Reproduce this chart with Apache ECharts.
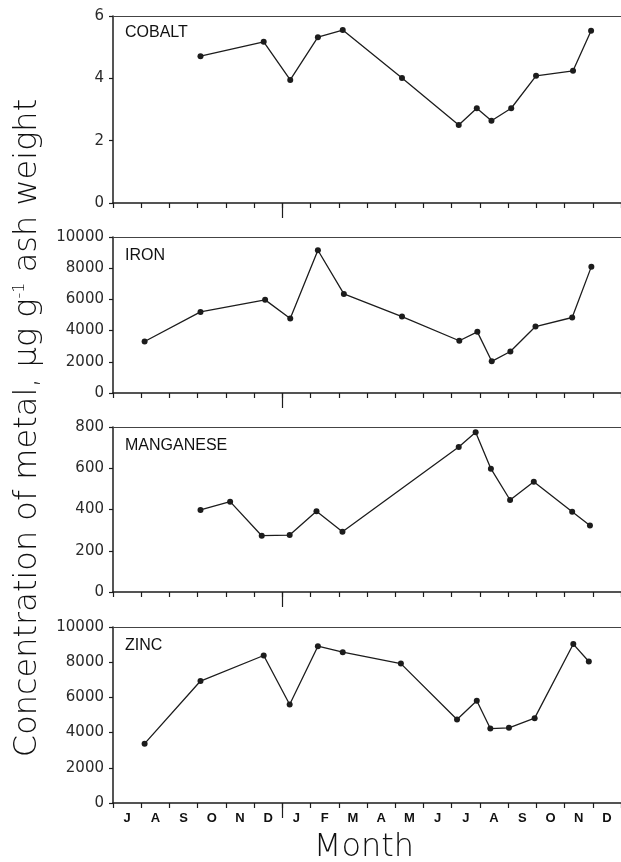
<!DOCTYPE html>
<html>
<head>
<meta charset="utf-8">
<script src="https://cdn.jsdelivr.net/npm/echarts@6/dist/echarts.min.js"></script>
<style>
  html, body { margin: 0; padding: 0; background: #ffffff; }
  #chart { width: 621px; height: 862px; }
</style>
</head>
<body>
<div id="chart"></div>
<script>
// Month categories (July .. December of the following year)
const months = ['J','A','S','O','N','D','J','F','M','A','M','J','J','A','S','O','N','D'];

// Sampling times in months from the start of the first July
const cobaltTime  = [3.10, 5.34, 6.28, 7.26, 8.14, 10.24, 12.25, 12.89, 13.41, 14.11, 14.99, 16.30, 16.94];
const cobaltValue = [4.71, 5.17, 3.95, 5.32, 5.55, 4.01, 2.50, 3.04, 2.64, 3.04, 4.08, 4.24, 5.53];

const ironTime  = [1.12, 3.10, 5.39, 6.28, 7.26, 8.18, 10.24, 12.27, 12.91, 13.42, 14.08, 14.97, 16.27, 16.95];
const ironValue = [3300, 5200, 5970, 4780, 9150, 6350, 4900, 3350, 3920, 2030, 2660, 4260, 4840, 8100];

const manganeseTime  = [3.10, 4.15, 5.27, 6.26, 7.21, 8.13, 12.25, 12.85, 13.39, 14.07, 14.91, 16.27, 16.90];
const manganeseValue = [398, 438, 273, 276, 392, 292, 703, 774, 598, 446, 535, 389, 322];

const zincTime  = [1.12, 3.10, 5.34, 6.26, 7.26, 8.14, 10.20, 12.19, 12.89, 13.37, 14.03, 14.94, 16.31, 16.86];
const zincValue = [3370, 6930, 8380, 5600, 8910, 8570, 7920, 4740, 5810, 4230, 4270, 4820, 9030, 8040];

// Panel names and y-axis scales
const panelNames = ['COBALT', 'IRON', 'MANGANESE', 'ZINC'];
const yMax      = [6, 10000, 800, 10000];
const yInterval = [2, 2000, 200, 2000];
const yearBoundary = [6];

const seriesTimes  = [cobaltTime, ironTime, manganeseTime, zincTime];
const seriesValues = [cobaltValue, ironValue, manganeseValue, zincValue];

// Layout
const gridLeft = 113;
const gridWidth = 513;
const gridTops = [16, 237, 427, 627];
const gridHeights = [187, 156, 165, 176];

const INK = '#1c1c1c';
const TITLE_FONT = 'DejaVu Sans ExtraLight, DejaVu Sans, sans-serif';
const chart = echarts.init(document.getElementById('chart'), null, { renderer: 'canvas' });

const grids = [], xAxes = [], yAxes = [], series = [], graphics = [];

for (let i = 0; i < 4; i++) {
  grids.push({
    left: gridLeft, top: gridTops[i], width: gridWidth, height: gridHeights[i],
    containLabel: false, show: false
  });
  const mainX = xAxes.length;
  xAxes.push({
    type: 'value', gridIndex: i, min: 0, max: 18, interval: 1, position: 'bottom',
    axisLine: { show: true, onZero: false, lineStyle: { color: INK, width: 1.5 } },
    axisTick: { show: true, inside: false, length: 5, lineStyle: { color: INK, width: 1.2 } },
    axisLabel: { show: false },
    splitLine: { show: false }
  });
  // longer tick at the year boundary
  xAxes.push({
    type: 'value', gridIndex: i, min: 0, max: 18, position: 'bottom',
    axisLine: { show: false },
    axisTick: { show: true, length: 15, customValues: yearBoundary, lineStyle: { color: INK, width: 1.2 } },
    axisLabel: { show: false },
    splitLine: { show: false }
  });
  // top frame line
  xAxes.push({
    type: 'value', gridIndex: i, min: 0, max: 18, position: 'top',
    axisLine: { show: true, onZero: false, lineStyle: { color: '#444', width: 1.2 } },
    axisTick: { show: false }, axisLabel: { show: false }, splitLine: { show: false }
  });
  if (i === 3) {
    xAxes.push({
      type: 'category', gridIndex: i, data: months, boundaryGap: true, position: 'bottom',
      axisLine: { show: false }, axisTick: { show: false },
      axisLabel: { show: true, interval: 0, margin: 9, color: '#111',
        fontFamily: 'Liberation Sans, Arial, sans-serif', fontWeight: 'bold', fontSize: 13 },
      splitLine: { show: false }
    });
  }
  yAxes.push({
    type: 'value', gridIndex: i, min: 0, max: yMax[i], interval: yInterval[i],
    axisLine: { show: true, onZero: false, lineStyle: { color: INK, width: 1.5 } },
    axisTick: { show: true, length: 4, lineStyle: { color: INK, width: 1.2 } },
    axisLabel: { show: true, margin: 9, color: '#2a2a2a',
      fontFamily: 'DejaVu Sans, sans-serif', fontSize: 15,
      formatter: (v) => String(v) },
    splitLine: { show: false }
  });
  series.push({
    type: 'line', xAxisIndex: mainX, yAxisIndex: i,
    data: seriesTimes[i].map((t, k) => [t, seriesValues[i][k]]),
    symbol: 'circle', symbolSize: 6, showSymbol: true,
    lineStyle: { color: INK, width: 1.3 },
    itemStyle: { color: INK },
    animation: false, silent: true
  });
  graphics.push({
    type: 'text', x: gridLeft + 12, y: gridTops[i] + (i === 0 ? 17 : 19),
    style: { text: panelNames[i], fill: '#111', fontSize: 16,
      fontFamily: 'Liberation Sans, Arial, sans-serif', textVerticalAlign: 'middle' }
  });
}

graphics.push({
  type: 'text', x: 28, y: 428, rotation: Math.PI / 2,
  style: {
    text: 'Concentration of metal, μg g{sup|-1} ash weight',
    fill: '#111', fontSize: 32, fontWeight: 200,
    fontFamily: TITLE_FONT,
    textAlign: 'center', textVerticalAlign: 'middle',
    rich: { sup: { fontSize: 16, fontWeight: 200, fontFamily: TITLE_FONT, verticalAlign: 'top', fill: '#111' } }
  }
});
graphics.push({
  type: 'text', x: 364, y: 848,
  style: { text: 'Month', fill: '#111', fontSize: 32, fontWeight: 200,
    fontFamily: TITLE_FONT, textAlign: 'center', textVerticalAlign: 'middle' }
});

chart.setOption({
  backgroundColor: '#ffffff',
  animation: false,
  grid: grids,
  xAxis: xAxes,
  yAxis: yAxes,
  series: series,
  graphic: graphics
});
</script>
</body>
</html>
